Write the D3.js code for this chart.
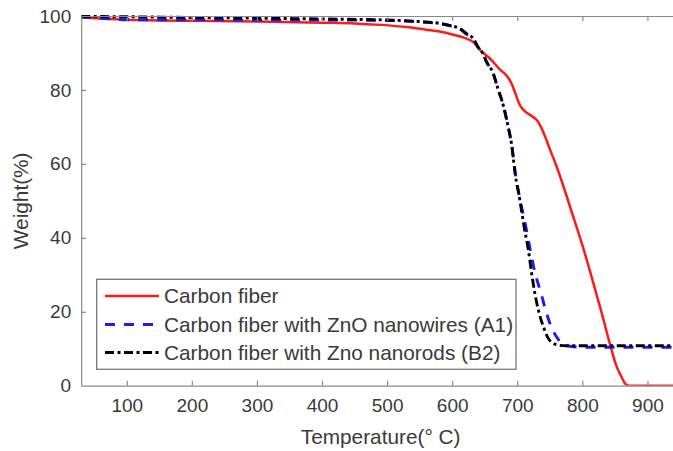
<!DOCTYPE html>
<html>
<head>
<meta charset="utf-8">
<script src="https://cdn.jsdelivr.net/npm/d3@7"></script>
<style>
  html, body { margin: 0; padding: 0; background: #fff; }
  svg { display: block; }
  text { font-family: "Liberation Sans", Arial, sans-serif; fill: #3a3a3a; }
</style>
</head>
<body>
<svg id="chart" width="673" height="451"></svg>
<script>
// Thermogravimetric curves: weight (%) versus temperature (°C)
const cfTemp   = [30, 60, 100, 150, 200, 300, 400, 450, 490, 530, 560, 581, 600, 620, 632, 643, 658, 674, 684, 691, 697, 704, 712, 720, 732, 743, 750, 760, 786, 800, 817, 830, 842, 852, 860, 866, 872, 950];
const cfWeight = [99.6, 99.3, 99.0, 98.8, 98.7, 98.5, 98.2, 98.0, 97.6, 97.0, 96.3, 95.8, 95.0, 94.0, 93.0, 90.8, 88.5, 85.4, 83.8, 81.8, 79.1, 75.9, 74.2, 73.2, 71.4, 67.3, 64.0, 59.5, 45.7, 38.0, 27.7, 19.5, 11.5, 5.5, 2.4, 0.5, 0.0, 0.0];

const a1Temp   = [30, 60, 100, 200, 300, 400, 500, 550, 581, 600, 611, 622, 632, 640, 647, 653, 663, 670, 679, 686, 691, 697, 704, 712, 720, 728, 735, 745, 752, 760, 768, 776, 800, 950];
const a1Weight = [99.7, 99.4, 99.0, 99.0, 98.9, 98.9, 98.8, 98.4, 97.9, 97.2, 96.6, 95.1, 93.9, 91.5, 89.9, 87.5, 84.5, 80.5, 75.5, 70.0, 65.6, 57.5, 50.5, 44.0, 36.7, 30.0, 25.9, 19.6, 16.0, 13.3, 11.5, 10.8, 10.4, 10.4];

const b2Temp   = [30, 100, 200, 300, 400, 500, 550, 581, 600, 611, 622, 632, 640, 647, 653, 663, 670, 679, 686, 691, 697, 704, 710, 717, 722, 727, 733, 740, 747, 755, 765, 775, 950];
const b2Weight = [99.9, 99.8, 99.6, 99.4, 99.2, 98.9, 98.5, 98.0, 97.3, 96.7, 95.2, 94.0, 91.5, 89.9, 87.5, 84.5, 80.5, 75.5, 70.0, 65.6, 57.0, 50.2, 43.5, 36.7, 30.5, 25.0, 20.0, 16.0, 13.0, 11.5, 10.9, 10.8, 10.8];

const seriesNames = [
  "Carbon fiber",
  "Carbon fiber with ZnO nanowires (A1)",
  "Carbon fiber with Zno nanorods (B2)"
];
const xTicks = [100, 200, 300, 400, 500, 600, 700, 800, 900];
const yTicks = [0, 20, 40, 60, 80, 100];

const series = [
  { name: seriesNames[0], t: cfTemp, w: cfWeight, color: "#ff1a1a", width: 2.5, dash: null },
  { name: seriesNames[1], t: a1Temp, w: a1Weight, color: "#1a1aff", width: 2.9, dash: "10,9" },
  { name: seriesNames[2], t: b2Temp, w: b2Weight, color: "#000000", width: 2.9, dash: "9,3.5,3,3.5" }
];

const svg = d3.select("#chart");
const plot = { left: 81.2, right: 680, top: 16, bottom: 385.7 };

const x = d3.scaleLinear().domain([30, 950]).range([plot.left, plot.right]);
const y = d3.scaleLinear().domain([0, 100]).range([plot.bottom, plot.top]);

const axisColor = "#8a8a8a";

svg.append("defs").append("clipPath").attr("id", "plotClip")
  .append("rect")
  .attr("x", plot.left).attr("y", plot.top - 4)
  .attr("width", plot.right - plot.left).attr("height", plot.bottom - plot.top + 4);

// Curves
const line = d3.line()
  .x(d => x(d[0]))
  .y(d => y(d[1]))
  .curve(d3.curveMonotoneX);

const curves = svg.append("g").attr("clip-path", "url(#plotClip)");
series.forEach(s => {
  curves.append("path")
    .datum(s.t.map((t, i) => [t, s.w[i]]))
    .attr("d", line)
    .attr("fill", "none")
    .attr("stroke", s.color)
    .attr("stroke-width", s.width)
    .attr("stroke-dasharray", s.dash)
    .attr("stroke-linejoin", "round");
});

// Axes (ticks pointing inward, box style)
function styleAxis(g) {
  g.selectAll(".domain").attr("stroke", axisColor).attr("stroke-width", 1.2);
  g.selectAll(".tick line").attr("stroke", axisColor).attr("stroke-width", 1.2);
  g.selectAll(".tick text").attr("font-size", "19px").style("fill", "#3a3a3a");
}

const xAxis = svg.append("g")
  .attr("transform", `translate(0,${plot.bottom})`)
  .call(d3.axisBottom(x).tickValues(xTicks).tickSizeInner(-5).tickSizeOuter(0).tickPadding(13));
styleAxis(xAxis);

const xAxisTop = svg.append("g")
  .attr("transform", `translate(0,${plot.top})`)
  .call(d3.axisTop(x).tickValues(xTicks).tickSizeInner(-5).tickSizeOuter(0).tickFormat(""));
styleAxis(xAxisTop);

const yAxis = svg.append("g")
  .attr("transform", `translate(${plot.left},0)`)
  .call(d3.axisLeft(y).tickValues(yTicks).tickSizeInner(-5).tickSizeOuter(0).tickPadding(10));
styleAxis(yAxis);
yAxis.selectAll(".tick").filter(d => d === 0 || d === 100).select("line").remove();

const yAxisRight = svg.append("g")
  .attr("transform", `translate(${plot.right},0)`)
  .call(d3.axisRight(y).tickValues(yTicks).tickSizeInner(-5).tickSizeOuter(0).tickFormat(""));
styleAxis(yAxisRight);

// Axis titles
svg.append("text")
  .attr("x", (plot.left + plot.right) / 2)
  .attr("y", 444)
  .attr("text-anchor", "middle")
  .attr("font-size", "20.8px")
  .text("Temperature(° C)");

svg.append("text")
  .attr("transform", `translate(28,${(plot.top + plot.bottom) / 2}) rotate(-90)`)
  .attr("text-anchor", "middle")
  .attr("font-size", "20.8px")
  .text("Weight(%)");

// Legend
const legend = svg.append("g");
legend.append("rect")
  .attr("x", 96.7).attr("y", 279.3)
  .attr("width", 516 - 96.7).attr("height", 369.3 - 279.3)
  .attr("fill", "#fff")
  .attr("stroke", "#777")
  .attr("stroke-width", 1.3);

const legendRows = [296, 324.5, 352.5];
series.forEach((s, i) => {
  legend.append("line")
    .attr("x1", 105).attr("x2", 159)
    .attr("y1", legendRows[i]).attr("y2", legendRows[i])
    .attr("stroke", s.color)
    .attr("stroke-width", s.width)
    .attr("stroke-dasharray", s.dash);
  legend.append("text")
    .attr("x", 164)
    .attr("y", legendRows[i])
    .attr("dy", "0.35em")
    .attr("font-size", "20.8px")
    .text(s.name);
});
</script>
</body>
</html>
